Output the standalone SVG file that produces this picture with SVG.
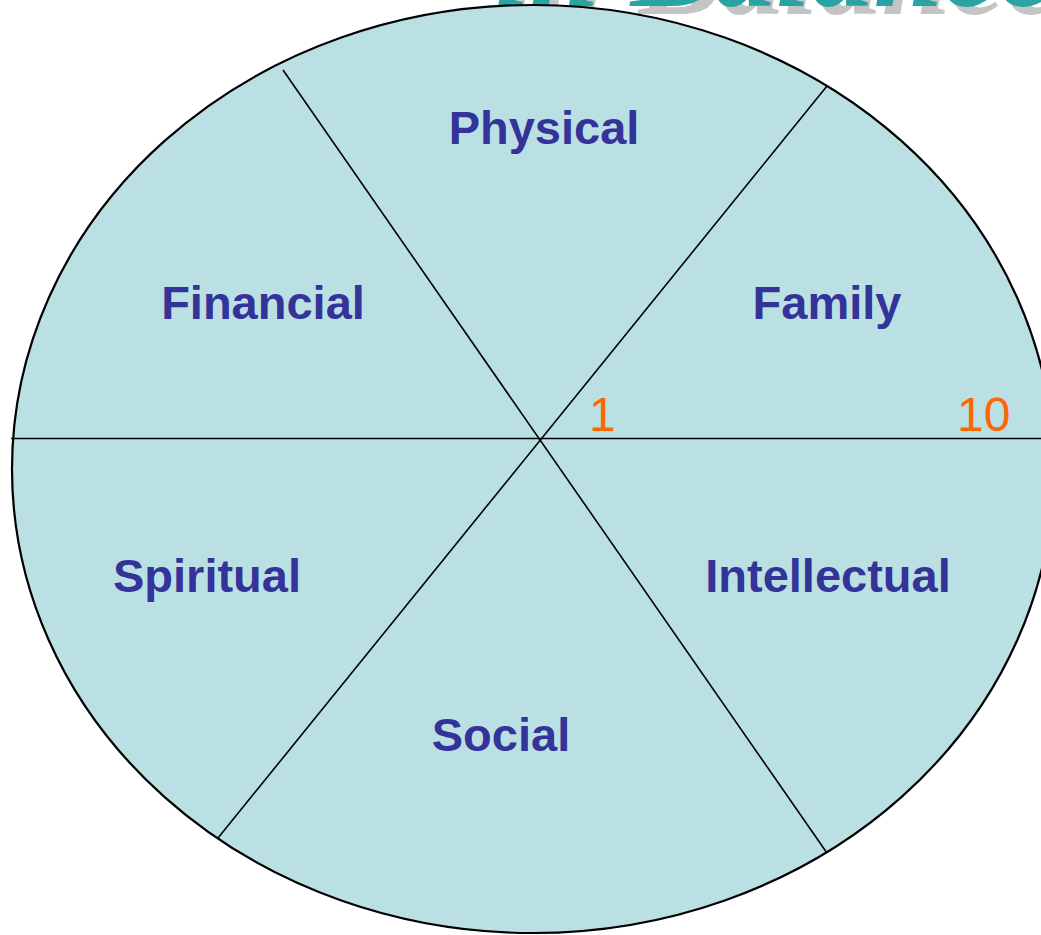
<svg xmlns="http://www.w3.org/2000/svg" width="1041" height="935" viewBox="0 0 1041 935">
<style>
.title{font-family:"Liberation Serif",serif;font-weight:bold;font-style:italic;font-size:125px}
.lbl{font-family:"Liberation Sans",Arial,sans-serif;font-weight:bold;font-size:47px;fill:#333399;text-anchor:middle}
.num{font-family:"Liberation Sans",Arial,sans-serif;font-size:48px;fill:#FF6600}
.spoke{stroke:#000;stroke-width:1.6;fill:none}
</style>
<rect width="1041" height="935" fill="#fff"/>
<g id="title">
<text class="title" x="503" y="14" fill="#C4C4C4">in Balance</text>
<text class="title" x="495" y="6" fill="#2AA3A3">in Balance</text>
</g>
<g id="wheel">
<ellipse cx="533" cy="469" rx="521" ry="464" fill="#BBE0E3" stroke="#000" stroke-width="2.2"/>
</g>
<g id="connectors">
<line class="spoke" x1="11" y1="438.5" x2="1041" y2="438.5"/>
<line class="spoke" x1="283" y1="70" x2="827" y2="853"/>
<line class="spoke" x1="827" y1="86" x2="218" y2="838"/>
</g>
<g id="physical"><text class="lbl" x="544" y="144">Physical</text></g>
<g id="financial"><text class="lbl" x="263" y="319">Financial</text></g>
<g id="family"><text class="lbl" x="827" y="319">Family</text></g>
<g id="spiritual"><text class="lbl" x="207" y="592">Spiritual</text></g>
<g id="intellectual"><text class="lbl" x="828" y="592">Intellectual</text></g>
<g id="social"><text class="lbl" x="501" y="751">Social</text></g>
<g id="scale">
<text class="num" x="589" y="431">1</text>
<text class="num" x="957" y="431">10</text>
</g>
</svg>
